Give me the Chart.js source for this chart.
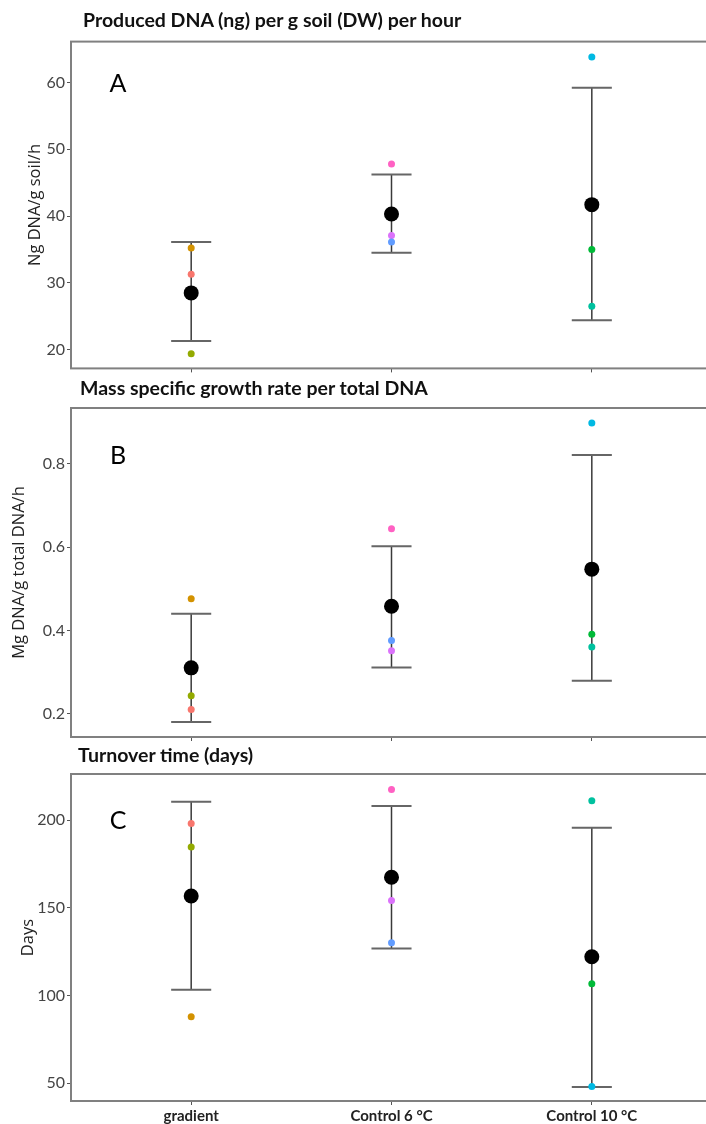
<!DOCTYPE html>
<html><head><meta charset="utf-8">
<script src="https://cdn.jsdelivr.net/npm/chart.js@4.4.1/dist/chart.umd.min.js"></script>
<style>
html,body{margin:0;padding:0;width:706px;height:1124px;overflow:hidden;background:#fff;}
.panel{position:absolute;left:0;width:720px;}
.ptitle{position:absolute;font-family:Lato,sans-serif;font-weight:700;font-size:19.5px;line-height:22px;color:#111;white-space:nowrap;}
</style></head><body>
<div class="panel" style="top:30px;height:350px"><canvas id="cA" width="720" height="350"></canvas></div>
<div class="panel" style="top:395px;height:355px"><canvas id="cB" width="720" height="355"></canvas></div>
<div class="panel" style="top:760px;height:364px"><canvas id="cC" width="720" height="364"></canvas></div>
<div class="ptitle" style="left:83px;top:9px">Produced DNA (ng) per g soil (DW) per hour</div>
<div class="ptitle" style="left:80px;top:377px">Mass specific growth rate per total DNA</div>
<div class="ptitle" style="left:78px;top:744px">Turnover time (days)</div>
<script>
// ---- data ----
const categories = ['gradient', 'Control 6 °C', 'Control 10 °C'];
const sampleGroup = [0, 0, 0, 1, 1, 1, 2, 2, 2];
const sampleColors = ['#D39200', '#F8766D', '#93AA00', '#FF61C3', '#DB72FB', '#619CFF', '#00B9E3', '#00BA38', '#00C19F'];

const dnaValues = [35.2, 31.3, 19.4, 47.8, 37.1, 36.1, 63.8, 35.0, 26.5];
const dnaMeans  = [28.5, 40.3, 41.7];
const dnaUpper  = [36.1, 46.2, 59.2];
const dnaLower  = [21.3, 34.5, 24.4];

const growthValues = [0.476, 0.210, 0.243, 0.644, 0.351, 0.376, 0.898, 0.391, 0.360];
const growthMeans  = [0.310, 0.458, 0.547];
const growthUpper  = [0.440, 0.602, 0.821];
const growthLower  = [0.180, 0.311, 0.279];

const turnoverValues = [87.9, 198.1, 184.8, 217.6, 154.2, 130.2, 48.1, 106.8, 211.2];
const turnoverMeans  = [156.8, 167.5, 122.2];
const turnoverUpper  = [210.6, 208.2, 195.8];
const turnoverLower  = [103.4, 126.9, 47.9];

// ---- plugins ----
const errBars = {
  id: 'errbars',
  beforeDatasetsDraw(chart, args, o) {
    const {ctx} = chart, xs = chart.scales.x, ys = chart.scales.y;
    ctx.save();
    o.means.forEach((m, i) => {
      const x = xs.getPixelForValue(i + 1);
      const yt = ys.getPixelForValue(o.upper[i]);
      const yb = ys.getPixelForValue(o.lower[i]);
      ctx.strokeStyle = '#3a3a3a'; ctx.lineWidth = 1.5;
      ctx.beginPath(); ctx.moveTo(x, yt); ctx.lineTo(x, yb); ctx.stroke();
      const xl = xs.getPixelForValue(i + 1 - 0.1), xr = xs.getPixelForValue(i + 1 + 0.1);
      ctx.strokeStyle = '#666'; ctx.lineWidth = 2;
      ctx.beginPath(); ctx.moveTo(xl, yt); ctx.lineTo(xr, yt); ctx.moveTo(xl, yb); ctx.lineTo(xr, yb); ctx.stroke();
    });
    ctx.restore();
  }
};
const frame = {
  id: 'frame',
  afterDraw(chart, args, o) {
    const {ctx, chartArea: a} = chart;
    ctx.save();
    ctx.strokeStyle = '#808080'; ctx.lineWidth = 2;
    ctx.strokeRect(a.left, a.top, a.right - a.left, a.bottom - a.top);
    ctx.fillStyle = '#000';
    ctx.font = '25px Lato, sans-serif';
    ctx.textAlign = 'center'; ctx.textBaseline = 'middle';
    ctx.fillText(o.letter, chart.scales.x.getPixelForValue(o.letterX), chart.scales.y.getPixelForValue(o.letterY));
    ctx.restore();
  }
};

function makePanel(id, p) {
  new Chart(document.getElementById(id), {
    type: 'scatter',
    data: {
      datasets: [
        {
          data: p.means.map((m, i) => ({x: i + 1, y: m})),
          backgroundColor: '#000', borderWidth: 0, pointRadius: 7.5
        },
        {
          data: p.values.map((v, i) => ({x: sampleGroup[i] + 1, y: v})),
          backgroundColor: sampleColors, borderWidth: 0, pointRadius: 3.5
        }
      ]
    },
    options: {
      responsive: false, animation: false,
      layout: {padding: {top: p.padTop, right: 8, bottom: 0, left: 0}},
      plugins: {
        legend: {display: false}, tooltip: {enabled: false},
        errbars: {means: p.means, upper: p.upper, lower: p.lower},
        frame: {letter: p.letter, letterX: 0.635, letterY: p.letterY}
      },
      scales: {
        x: {
          type: 'linear', min: 0.4, max: 3.6,
          afterBuildTicks: s => { s.ticks = categories.map((c, i) => ({value: i + 1})); },
          afterFit: s => { s.height = p.xHeight; },
          ticks: {
            display: p.showX, padding: 2, color: '#222',
            font: {family: 'Lato', size: 15, weight: 'bold'},
            callback: v => categories[Math.round(v) - 1]
          },
          grid: {display: true, drawOnChartArea: false, drawTicks: true, tickLength: 4, color: '#555'},
          border: {display: false}
        },
        y: {
          min: p.yMin, max: p.yMax,
          afterFit: s => { s.width = 71; },
          ticks: {stepSize: p.step, includeBounds: false, padding: 2, color: '#444',
                  font: {family: 'Lato', size: 16}},
          grid: {display: true, drawOnChartArea: false, drawTicks: true, tickLength: 4, color: '#555'},
          border: {display: false},
          title: {display: true, text: p.yTitle, color: '#222',
                  font: {family: 'Open Sans', size: 16.5}, padding: {top: p.titlePad, bottom: 0}}
        }
      }
    },
    plugins: [errBars, frame]
  });
}

makePanel('cA', {values: dnaValues, means: dnaMeans, upper: dnaUpper, lower: dnaLower,
  yMin: 17.2, yMax: 66.1, step: 10, yTitle: 'Ng DNA/g soil/h', titlePad: 25,
  letter: 'A', letterY: 59.7, padTop: 10, xHeight: 11, showX: false});
makePanel('cB', {values: growthValues, means: growthMeans, upper: growthUpper, lower: growthLower,
  yMin: 0.144, yMax: 0.934, step: 0.2, yTitle: 'Mg DNA/g total DNA/h', titlePad: 9,
  letter: 'B', letterY: 0.82, padTop: 13, xHeight: 13, showX: false});
makePanel('cC', {values: turnoverValues, means: turnoverMeans, upper: turnoverUpper, lower: turnoverLower,
  yMin: 39.9, yMax: 226.4, step: 50, yTitle: 'Days', titlePad: 18,
  letter: 'C', letterY: 199.5, padTop: 14, xHeight: 23, showX: true});
</script>
</body></html>
